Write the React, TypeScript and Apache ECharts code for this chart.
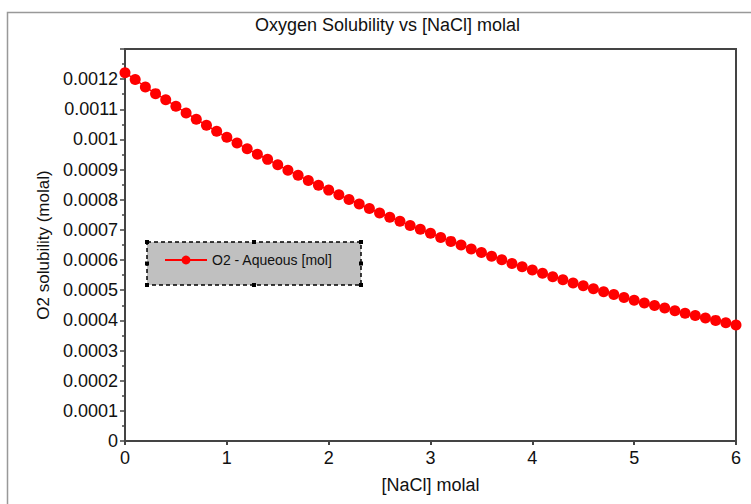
import React, { useEffect, useRef } from 'react';
import * as echarts from 'echarts';

const chartTitle = 'Oxygen Solubility vs [NaCl] molal';
const xAxisName = '[NaCl] molal';
const yAxisName = 'O2 solubility (molal)';
const seriesName = 'O2 - Aqueous [mol]';

const naclMolal = [
  0, 0.1, 0.2, 0.3, 0.4, 0.5, 0.6, 0.7, 0.8, 0.9,
  1, 1.1, 1.2, 1.3, 1.4, 1.5, 1.6, 1.7, 1.8, 1.9,
  2, 2.1, 2.2, 2.3, 2.4, 2.5, 2.6, 2.7, 2.8, 2.9,
  3, 3.1, 3.2, 3.3, 3.4, 3.5, 3.6, 3.7, 3.8, 3.9,
  4, 4.1, 4.2, 4.3, 4.4, 4.5, 4.6, 4.7, 4.8, 4.9,
  5, 5.1, 5.2, 5.3, 5.4, 5.5, 5.6, 5.7, 5.8, 5.9,
  6,
];

const o2Solubility = [
  0.001221, 0.001199, 0.001174, 0.001152, 0.001132, 0.00111, 0.001088, 0.001067, 0.001047, 0.001027,
  0.001007, 0.000988, 0.000969, 0.000951, 0.000934, 0.000916, 0.000898, 0.000881, 0.000864, 0.000848,
  0.000832, 0.000817, 0.000801, 0.000786, 0.000771, 0.000756, 0.000742, 0.000729, 0.000715, 0.000702,
  0.000689, 0.000675, 0.000662, 0.00065, 0.000637, 0.000625, 0.000613, 0.000601, 0.000589, 0.000578,
  0.000567, 0.000556, 0.000545, 0.000535, 0.000524, 0.000515, 0.000505, 0.000495, 0.000486, 0.000476,
  0.000467, 0.000458, 0.000449, 0.000441, 0.000432, 0.000424, 0.000416, 0.000408, 0.0004, 0.000392,
  0.000385,
];

const FONT = '"Liberation Sans", Arial, sans-serif';

export default function App() {
  const ref = useRef<HTMLDivElement>(null);

  useEffect(() => {
    if (!ref.current) return;
    const chart = echarts.init(ref.current, undefined, { renderer: 'svg' });
    const handles: any[] = [];
    const hx = [147, 254, 361];
    const hy = [242, 263.5, 285];
    hx.forEach((x, i) => {
      hy.forEach((y, j) => {
        if (i === 1 && j === 1) return;
        handles.push({
          type: 'rect',
          shape: { x: x - 2, y: y - 2, width: 4, height: 4 },
          style: { fill: '#000' },
          z: 101,
        });
      });
    });
    chart.setOption({
      animation: false,
      backgroundColor: '#fff',
      textStyle: { fontFamily: FONT },
      title: {
        text: chartTitle,
        left: 250,
        top: 11,
        textStyle: { fontSize: 18, fontWeight: 'normal', color: '#111', fontFamily: FONT },
      },
      grid: {
        left: 125,
        right: 15,
        top: 49,
        bottom: 63,
        show: true,
        borderColor: '#444',
        borderWidth: 2,
        backgroundColor: 'transparent',
      },
      legend: {
        data: [seriesName],
        left: 164,
        top: 253,
        itemWidth: 42,
        itemHeight: 11,
        padding: 0,
        textStyle: { fontSize: 14, color: '#111', fontFamily: FONT },
        z: 102,
      },
      xAxis: {
        type: 'value',
        min: 0,
        max: 6,
        interval: 1,
        name: xAxisName,
        nameLocation: 'middle',
        nameGap: 35,
        nameTextStyle: { fontSize: 18, color: '#111', fontFamily: FONT },
        axisLine: { show: true, lineStyle: { color: '#444', width: 2 } },
        axisTick: { show: true, inside: false, length: 4, lineStyle: { color: '#444', width: 2 } },
        axisLabel: {
          fontSize: 18,
          color: '#111',
          margin: 8,
          fontFamily: FONT,
          formatter: (v: number) => String(v),
        },
        splitLine: { show: false },
      },
      yAxis: {
        type: 'value',
        min: 0,
        max: 0.0013,
        interval: 0.0001,
        name: yAxisName,
        nameLocation: 'middle',
        nameGap: 73,
        nameTextStyle: { fontSize: 17, color: '#111', fontFamily: FONT },
        axisLine: { show: true, lineStyle: { color: '#444', width: 2 } },
        axisTick: { show: true, inside: false, length: 5, lineStyle: { color: '#444', width: 1.5 } },
        minorTick: { show: true, splitNumber: 2, length: 3, lineStyle: { color: '#444', width: 1.5 } },
        axisLabel: {
          fontSize: 18,
          color: '#111',
          margin: 7,
          fontFamily: FONT,
          formatter: (v: number) => {
            if (v > 0.00125) return '';
            if (v === 0) return '0';
            return String(+v.toFixed(4));
          },
        },
        splitLine: { show: false },
      },
      graphic: [
        {
          type: 'rect',
          shape: { x: 7.5, y: 12.5, width: 800, height: 600 },
          style: { fill: 'none', stroke: '#999', lineWidth: 1.5 },
          silent: true,
          z: -1,
        },
        {
          type: 'rect',
          shape: { x: 147, y: 242, width: 214, height: 43 },
          style: { fill: '#c0c0c0', stroke: '#000', lineWidth: 1.5, lineDash: [4, 3] },
          z: 100,
        },
        ...handles,
      ],
      series: [
        {
          name: seriesName,
          type: 'line',
          data: naclMolal.map((x, i) => [x, o2Solubility[i]]),
          symbol: 'circle',
          symbolSize: 11,
          showAllSymbol: true,
          itemStyle: { color: '#ff0000' },
          lineStyle: { color: '#ff0000', width: 1.5 },
          clip: false,
        },
      ],
    });
    return () => chart.dispose();
  }, []);

  return (
    <div
      ref={ref}
      style={{ position: 'fixed', left: 0, top: 0, width: 751, height: 504 }}
    />
  );
}
